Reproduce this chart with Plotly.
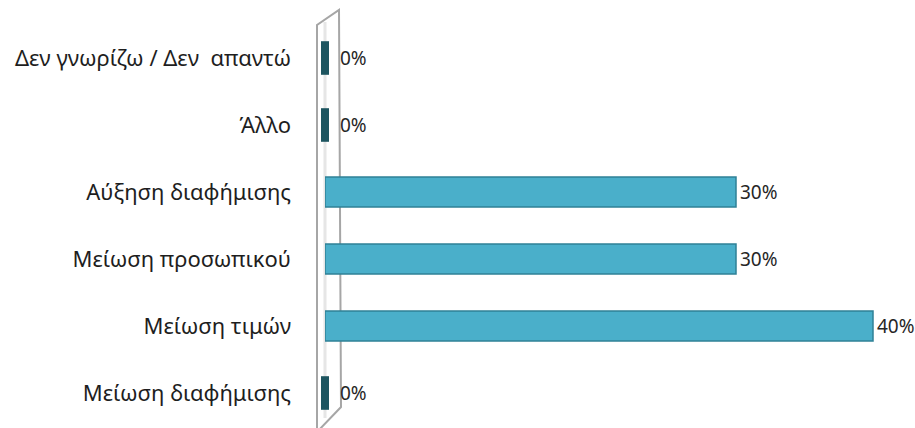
import plotly.graph_objects as go

categories = ["Μείωση διαφήμισης", "Μείωση τιμών", "Μείωση προσωπικού",
              "Αύξηση διαφήμισης", "Άλλο", "Δεν γνωρίζω / Δεν  απαντώ"]
values = [0, 40, 30, 30, 0, 0]
value_labels = [f"{v}%" for v in values]

zero_cats = [c for c, v in zip(categories, values) if v == 0]
zero_vals = [v for v in values if v == 0]

W, H = 915, 428
ml, mr, mt, mb = 325, 0, 24, 0
pw, ph = W - ml - mr, H - mt - mb
row_px, first_c, last_c = 67, 393, 58

def px(x):
    return (x - ml) / pw

def py(y):
    return (H - mb - y) / ph

yr = [-(H - mb - first_c) / row_px, (len(categories) - 1) + (last_c - mt) / row_px]

fig = go.Figure()
fig.add_trace(go.Bar(
    y=categories, x=values, orientation="h",
    marker=dict(color="#4aafca", line=dict(color="#2f8197", width=1.5)),
    width=0.45, hoverinfo="skip",
))
fig.add_trace(go.Scatter(
    y=zero_cats, x=zero_vals, mode="markers",
    marker=dict(symbol="line-ns", size=24, color="#1d5560",
                line=dict(color="#1d5560", width=8)),
    hoverinfo="skip", cliponaxis=False,
))

for c, v, t in zip(categories, values, value_labels):
    fig.add_annotation(x=v, y=c, xref="x", yref="y", text=t, showarrow=False,
                       xanchor="left", yanchor="middle",
                       xshift=13 if v == 0 else 2,
                       font=dict(family="Noto Sans", size=19, color="#262626"))

# 3D wall outline (decorative)
wall = (f"M {px(317)},{py(432)} L {px(317)},{py(25)} L {px(339)},{py(10)} "
        f"L {px(341)},{py(407)} Z")
fig.add_shape(type="path", xref="paper", yref="paper", path=wall,
              line=dict(color="#a6a6a6", width=2), fillcolor="white",
              layer="below")
fig.add_shape(type="line", xref="paper", yref="paper",
              x0=px(325), x1=px(325), y0=py(418), y1=py(22),
              line=dict(color="#e6e6e6", width=3), layer="below")

fig.update_layout(
    width=W, height=H,
    margin=dict(l=ml, r=mr, t=mt, b=mb),
    plot_bgcolor="white", paper_bgcolor="white",
    showlegend=False,
    font=dict(family="Noto Sans", size=22, color="#1e1e1e"),
    xaxis=dict(range=[0, pw / 13.7], visible=False, fixedrange=True),
    yaxis=dict(categoryorder="array", categoryarray=categories, range=yr,
               showgrid=False, showline=False, zeroline=False,
               ticks="", ticklabelstandoff=33, fixedrange=True,
               tickfont=dict(family="Noto Sans", size=22, color="#1e1e1e")),
)

fig.write_html("out.html", config={"displayModeBar": False},
               post_script="document.body.style.margin='0';document.body.style.overflow='hidden';")
